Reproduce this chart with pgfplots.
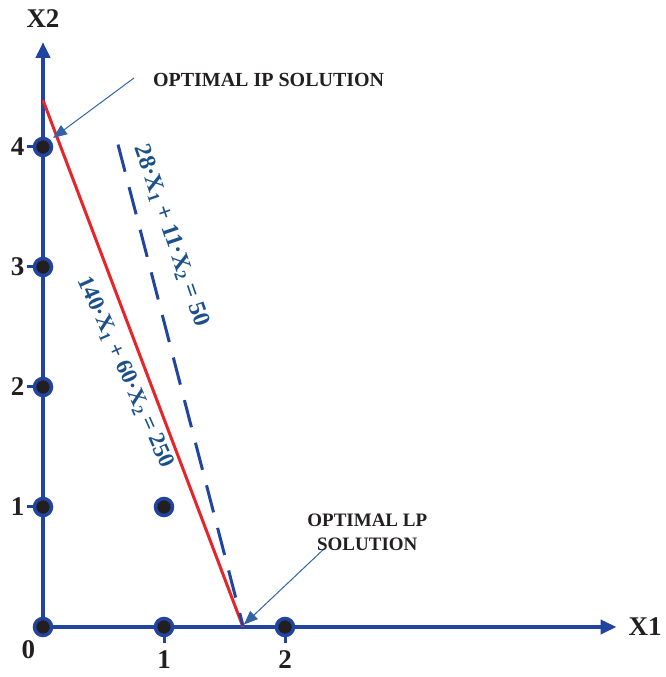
\documentclass[border=0pt]{standalone}
\usepackage{fontspec}
\setmainfont{Liberation Serif}
\usepackage{pgfplots}
\pgfplotsset{compat=1.18}
\usetikzlibrary{arrows.meta}
\definecolor{axblue}{RGB}{33,68,160}
\definecolor{lred}{RGB}{232,36,40}
\definecolor{eqblue}{RGB}{28,80,138}
\definecolor{annblue}{RGB}{50,100,165}
\definecolor{dotblack}{RGB}{35,31,32}
\definecolor{txtgray}{RGB}{35,31,32}
\begin{document}
\begin{tikzpicture}
\begin{axis}[
  x=121pt, y=120pt,
  xmin=0, xmax=4.74, ymin=0, ymax=4.875,
  axis lines=left,
  clip=false,
  axis line style={axblue, line width=4pt},
  x axis line style={-{Triangle[length=16pt,width=14pt]}},
  y axis line style={-{Triangle[length=16pt,width=14pt]}},
  xtick={1,2}, ytick={1,2,3,4},
  tick align=outside,
  major tick length=16pt,
  tick style={axblue, line width=3pt},
  ticklabel style={font=\fontsize{27}{30}\selectfont\bfseries, text=txtgray},
  /pgf/number format/assume math mode=true,
  yticklabel style={xshift=1pt},
  xticklabel style={yshift=-4pt},
]
% red line: 140 X1 + 60 X2 = 250
\addplot[lred, line width=3pt] coordinates {(0,4.39) (1.653,0)};
% dashed line: 28 X1 + 11 X2 = 50
\addplot[axblue, line width=3pt, dash pattern=on 28pt off 16pt] coordinates {(0.62,4.02) (1.653,0.01)};
% integer points
\addplot[only marks, mark=*, mark size=8.5pt, mark options={fill=dotblack, draw=axblue, line width=3.5pt}]
  coordinates {(0,0) (0,1) (0,2) (0,3) (0,4) (1,0) (1,1) (2,0)};
% labels
\node[font=\fontsize{27}{30}\selectfont\bfseries, text=txtgray] at (axis cs:-0.12,-0.19) {0};
\node[font=\fontsize{27}{30}\selectfont\bfseries, text=txtgray, anchor=west] at (axis cs:4.81,0) {X1};
\node[font=\fontsize{27}{30}\selectfont\bfseries, text=txtgray] at (axis cs:0,5.07) {X2};
% annotations
\draw[annblue, line width=1pt, -{Triangle[length=14pt,width=11pt]}] (axis cs:0.752,4.575) -- (axis cs:0.083,4.075);
\node[font=\fontsize{20}{22}\selectfont\bfseries, text=txtgray, anchor=west] at (axis cs:0.88,4.56) {OPTIMAL IP SOLUTION};
\draw[annblue, line width=1pt, -{Triangle[length=14pt,width=11pt]}] (axis cs:2.33,0.658) -- (axis cs:1.66,0.02);
\node[font=\fontsize{19}{24}\selectfont\bfseries, text=txtgray, align=center] at (axis cs:2.68,0.79) {OPTIMAL LP\\SOLUTION};
% equation labels
\node[font=\fontsize{24}{26}\selectfont\bfseries, text=eqblue, rotate=-71] at (axis cs:1.06,3.26) {28·X\textsubscript{1} + 11·X\textsubscript{2} = 50};
\node[font=\fontsize{23}{26}\selectfont\bfseries, text=eqblue, rotate=-66] at (axis cs:0.68,2.12) {140·X\textsubscript{1} + 60·X\textsubscript{2} = 250};
\end{axis}
\pgfresetboundingbox
\path[use as bounding box] (-43pt,-50pt) rectangle (622pt,627pt);
\end{tikzpicture}
\end{document}
